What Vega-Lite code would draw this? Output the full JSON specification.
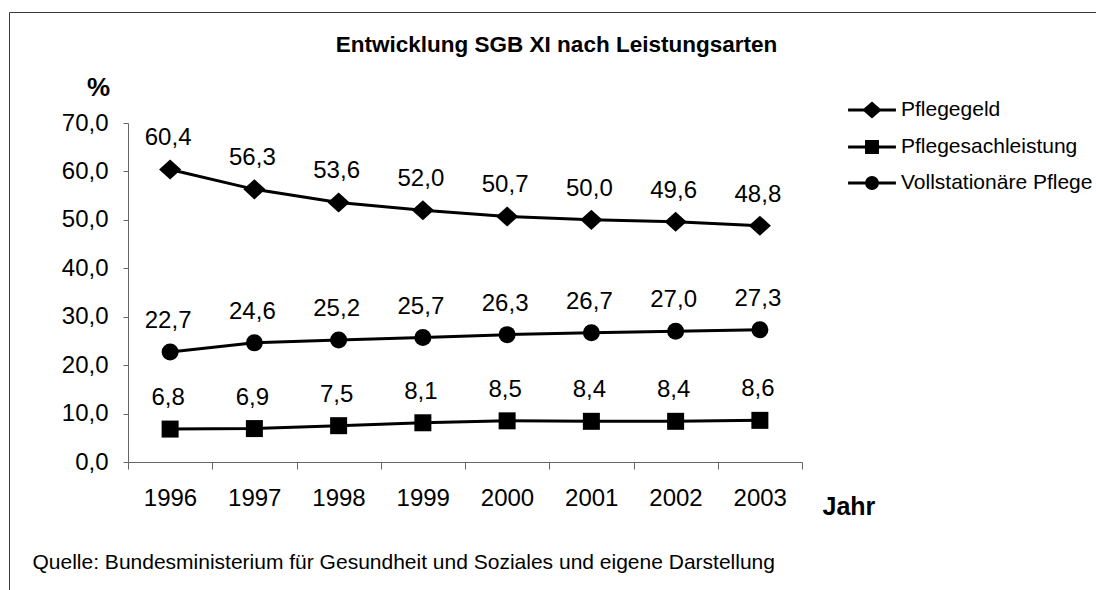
{
  "$schema": "https://vega.github.io/schema/vega-lite/v6.json",
  "width": 1089,
  "height": 578,
  "autosize": {"type": "none"},
  "padding": {"left": 9, "top": 12, "right": -2, "bottom": 0},
  "background": "white",
  "title": {
    "text": "Entwicklung SGB XI nach Leistungsarten",
    "anchor": "middle",
    "font": "Liberation Sans",
    "fontSize": 22.5,
    "fontWeight": "bold",
    "color": "black",
    "offset": 0,
    "dx": 3,
    "dy": 62,
    "baseline": "alphabetic"
  },
  "config": {
    "locale": {"number": {"decimal": ",", "thousands": ".", "grouping": [3], "currency": ["", " €"]}},
    "view": {"stroke": "#3a3a3a", "strokeWidth": 1},
    "axis": {
      "labelFont": "Liberation Sans",
      "labelFontSize": 24,
      "labelColor": "black",
      "titleFont": "Liberation Sans",
      "titleColor": "black",
      "domainColor": "#666666",
      "tickColor": "#666666",
      "domainWidth": 1,
      "tickWidth": 1,
      "grid": false
    }
  },
  "data": {
    "values": [
      {"Jahr": 1996, "Leistungsart": "Pflegegeld", "Anteil": 60.4},
      {"Jahr": 1997, "Leistungsart": "Pflegegeld", "Anteil": 56.3},
      {"Jahr": 1998, "Leistungsart": "Pflegegeld", "Anteil": 53.6},
      {"Jahr": 1999, "Leistungsart": "Pflegegeld", "Anteil": 52.0},
      {"Jahr": 2000, "Leistungsart": "Pflegegeld", "Anteil": 50.7},
      {"Jahr": 2001, "Leistungsart": "Pflegegeld", "Anteil": 50.0},
      {"Jahr": 2002, "Leistungsart": "Pflegegeld", "Anteil": 49.6},
      {"Jahr": 2003, "Leistungsart": "Pflegegeld", "Anteil": 48.8},
      {"Jahr": 1996, "Leistungsart": "Pflegesachleistung", "Anteil": 6.8},
      {"Jahr": 1997, "Leistungsart": "Pflegesachleistung", "Anteil": 6.9},
      {"Jahr": 1998, "Leistungsart": "Pflegesachleistung", "Anteil": 7.5},
      {"Jahr": 1999, "Leistungsart": "Pflegesachleistung", "Anteil": 8.1},
      {"Jahr": 2000, "Leistungsart": "Pflegesachleistung", "Anteil": 8.5},
      {"Jahr": 2001, "Leistungsart": "Pflegesachleistung", "Anteil": 8.4},
      {"Jahr": 2002, "Leistungsart": "Pflegesachleistung", "Anteil": 8.4},
      {"Jahr": 2003, "Leistungsart": "Pflegesachleistung", "Anteil": 8.6},
      {"Jahr": 1996, "Leistungsart": "Vollstationäre Pflege", "Anteil": 22.7},
      {"Jahr": 1997, "Leistungsart": "Vollstationäre Pflege", "Anteil": 24.6},
      {"Jahr": 1998, "Leistungsart": "Vollstationäre Pflege", "Anteil": 25.2},
      {"Jahr": 1999, "Leistungsart": "Vollstationäre Pflege", "Anteil": 25.7},
      {"Jahr": 2000, "Leistungsart": "Vollstationäre Pflege", "Anteil": 26.3},
      {"Jahr": 2001, "Leistungsart": "Vollstationäre Pflege", "Anteil": 26.7},
      {"Jahr": 2002, "Leistungsart": "Vollstationäre Pflege", "Anteil": 27.0},
      {"Jahr": 2003, "Leistungsart": "Vollstationäre Pflege", "Anteil": 27.3}
    ]
  },
  "layer": [
    {
      "mark": {"type": "line", "color": "black", "strokeWidth": 3},
      "encoding": {
        "x": {
          "field": "Jahr",
          "type": "quantitative",
          "scale": {"domain": [1995.5, 2003.5], "range": [119, 793], "nice": false, "zero": false},
          "axis": {
            "values": [1995.5, 1996.5, 1997.5, 1998.5, 1999.5, 2000.5, 2001.5, 2002.5, 2003.5],
            "labelExpr": "datum.value < 2003 ? format(datum.value + 0.5, 'd') : ''",
            "labelOffset": 42,
            "labelFlush": false,
            "labelOverlap": false,
            "labelBound": false,
            "tickSize": 7,
            "labelPadding": 17,
            "offset": -128,
            "title": "Jahr",
            "titleX": 813,
            "titleY": 44,
            "titleAlign": "left",
            "titleBaseline": "middle",
            "titleFontSize": 25,
            "titleFontWeight": "bold"
          }
        },
        "y": {
          "field": "Anteil",
          "type": "quantitative",
          "scale": {"domain": [0, 70], "range": [450, 111], "nice": false, "zero": true},
          "axis": {
            "values": [0, 10, 20, 30, 40, 50, 60, 70],
            "format": ".1f",
            "tickSize": 5,
            "labelPadding": 15,
            "labelOverlap": false,
            "labelFlush": false,
            "offset": -119,
            "title": "%",
            "titleAngle": 0,
            "titleX": -30,
            "titleY": 75,
            "titleAlign": "center",
            "titleBaseline": "middle",
            "titleFontSize": 26,
            "titleFontWeight": "bold"
          }
        },
        "detail": {"field": "Leistungsart", "type": "nominal"}
      }
    },
    {
      "transform": [{"filter": {"field": "Leistungsart", "equal": "Pflegegeld"}}],
      "mark": {"type": "point", "filled": true, "color": "black", "opacity": 1, "size": 289, "shape": "M-1.3,0L0,-1.18L1.3,0L0,1.18Z"},
      "encoding": {
        "x": {"field": "Jahr", "type": "quantitative"},
        "y": {"field": "Anteil", "type": "quantitative", "axis": null}
      }
    },
    {
      "transform": [{"filter": {"field": "Leistungsart", "equal": "Pflegesachleistung"}}],
      "mark": {"type": "point", "filled": true, "color": "black", "opacity": 1, "size": 289, "shape": "square"},
      "encoding": {
        "x": {"field": "Jahr", "type": "quantitative"},
        "y": {"field": "Anteil", "type": "quantitative", "axis": null}
      }
    },
    {
      "transform": [{"filter": {"field": "Leistungsart", "equal": "Vollstationäre Pflege"}}],
      "mark": {"type": "point", "filled": true, "color": "black", "opacity": 1, "size": 289, "shape": "circle"},
      "encoding": {
        "x": {"field": "Jahr", "type": "quantitative"},
        "y": {"field": "Anteil", "type": "quantitative", "axis": null}
      }
    },
    {
      "mark": {"type": "text", "dy": -31, "dx": -2, "fontSize": 24, "font": "Liberation Sans", "color": "black", "baseline": "middle"},
      "encoding": {
        "x": {"field": "Jahr", "type": "quantitative"},
        "y": {"field": "Anteil", "type": "quantitative", "axis": null},
        "text": {"field": "Anteil", "type": "quantitative", "format": ".1f"}
      }
    },
    {
      "mark": {"type": "point", "filled": true, "opacity": 0, "size": 10, "strokeWidth": 3},
      "encoding": {
        "x": {"field": "Jahr", "type": "quantitative"},
        "y": {
          "field": "Anteil",
          "type": "quantitative",
          "axis": {
            "orient": "right",
            "title": "Quelle: Bundesministerium für Gesundheit und Soziales und eigene Darstellung",
            "domain": false,
            "ticks": false,
            "labels": false,
            "grid": false,
            "titleAngle": 0,
            "titleX": -1066,
            "titleY": 550,
            "titleAlign": "left",
            "titleBaseline": "middle",
            "titleFontSize": 21,
            "titleFontWeight": "normal"
          }
        },
        "shape": {
          "field": "Leistungsart",
          "type": "nominal",
          "scale": {
            "domain": ["Pflegegeld", "Pflegesachleistung", "Vollstationäre Pflege"],
            "range": [
              "M-1.45,0L1.45,0M-0.45,0L0,-0.39L0.45,0L0,0.39Z",
              "M-1.45,0L1.45,0M-0.33,-0.33L0.33,-0.33L0.33,0.33L-0.33,0.33Z",
              "M-1.45,0L1.45,0M-0.33,0A0.33,0.33,0,1,0,0.33,0A0.33,0.33,0,1,0,-0.33,0Z"
            ]
          },
          "legend": {
            "orient": "none",
            "legendX": 845,
            "legendY": 80,
            "title": null,
            "symbolSize": 1089,
            "symbolOpacity": 1,
            "symbolStrokeWidth": 3,
            "labelFont": "Liberation Sans",
            "labelFontSize": 21,
            "labelColor": "black",
            "labelOffset": 11,
            "rowPadding": 6,
            "padding": 0,
            "labelLimit": 400
          }
        },
        "fill": {
          "field": "Leistungsart",
          "type": "nominal",
          "scale": {"domain": ["Pflegegeld", "Pflegesachleistung", "Vollstationäre Pflege"], "range": ["black", "black", "black"]},
          "legend": {
            "orient": "none",
            "legendX": 845,
            "legendY": 80,
            "title": null,
            "symbolSize": 1089,
            "symbolOpacity": 1,
            "symbolStrokeWidth": 3,
            "labelFont": "Liberation Sans",
            "labelFontSize": 21,
            "labelColor": "black",
            "labelOffset": 11,
            "rowPadding": 6,
            "padding": 0,
            "labelLimit": 400
          }
        },
        "stroke": {
          "field": "Leistungsart",
          "type": "nominal",
          "scale": {"domain": ["Pflegegeld", "Pflegesachleistung", "Vollstationäre Pflege"], "range": ["black", "black", "black"]},
          "legend": {
            "orient": "none",
            "legendX": 845,
            "legendY": 80,
            "title": null,
            "symbolSize": 1089,
            "symbolOpacity": 1,
            "symbolStrokeWidth": 3,
            "labelFont": "Liberation Sans",
            "labelFontSize": 21,
            "labelColor": "black",
            "labelOffset": 11,
            "rowPadding": 6,
            "padding": 0,
            "labelLimit": 400
          }
        }
      }
    }
  ],
  "resolve": {"axis": {"y": "independent"}}
}
